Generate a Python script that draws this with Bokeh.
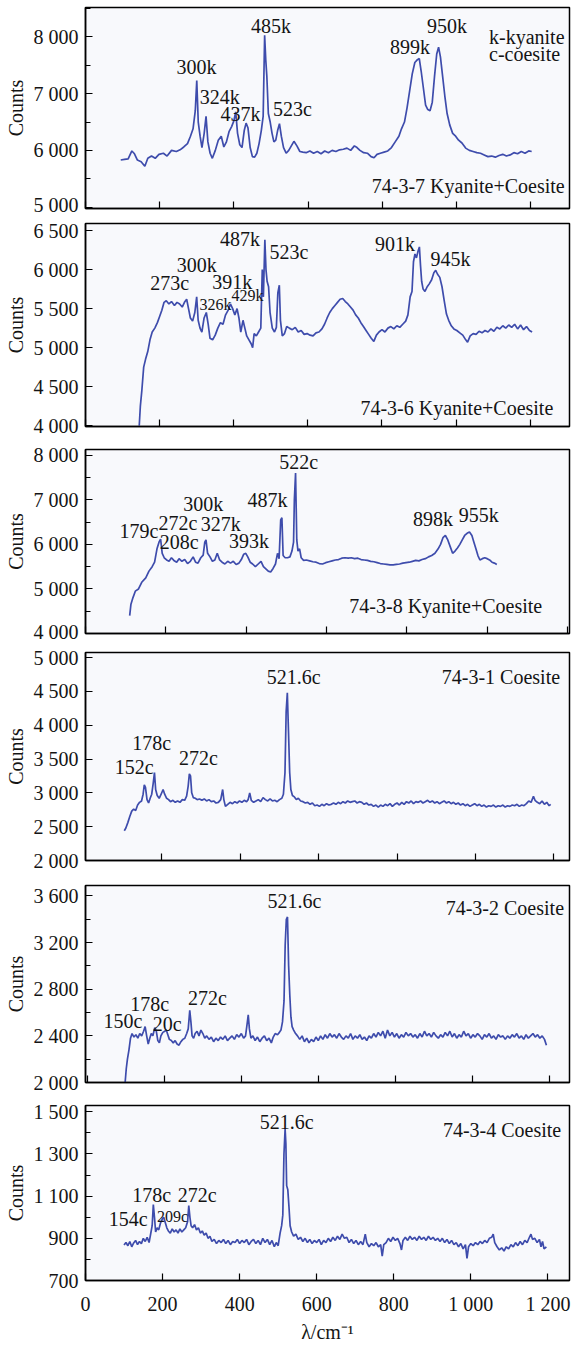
from bokeh.plotting import figure
from bokeh.layouts import column
from bokeh.models import FixedTicker, Range1d, Label
from bokeh.embed import file_html
from bokeh.resources import INLINE

FONT = "Liberation Serif"
LINE_COLOR = "#3442a8"
TEXT_COLOR = "#141414"

# ---------------- data (Raman shift cm-1, counts) ----------------
x_ticks = [0, 200, 400, 600, 800, 1000, 1200]
x_tick_labels = {1000: "1 000", 1200: "1 200"}

spec_737 = [(95,5830),(105,5840),(115,5850),(125,5990),(132,5940),(140,5830),(150,5800),(160,5720),(168,5860),(178,5900),
            (188,5860),(198,5930),(210,5950),(220,5900),(232,6000),(245,5980),(255,6010),(265,6060),(275,6120),(283,6250),
            (290,6380),(296,6700),(300,7230),(304,6500),(309,6250),(314,6050),(320,6300),(325,6600),(330,6150),(336,5950),
            (342,5860),(350,6000),(358,6180),(366,6250),(373,6060),(380,6150),(387,6330),(394,6420),(400,6520),(405,6680),
            (410,6300),(416,6100),(422,6050),(428,6350),(433,6480),(438,6400),(444,6050),(450,5890),(456,5880),(462,5950),
            (468,6120),(474,6350),(479,6600),(483,8030),(486,7600),(489,7300),(493,6650),(498,6500),(503,6300),(508,6150),
            (513,6180),(518,6350),(523,6470),(528,6250),(534,6050),(541,5950),(548,6000),(555,6080),(562,6160),(570,6080),
            (578,5980),(586,5970),(595,5960),(605,5990),(615,5950),(625,5980),(635,5940),(645,5990),(655,5960),(665,6000),
            (675,5980),(685,6010),(695,6020),(705,6040),(715,6000),(725,6080),(732,6050),(740,6000),(750,5960),(760,5950),
            (770,5890),(778,5870),(786,5930),(795,5950),(805,5970),(815,5990),(825,6050),(835,6150),(845,6250),(852,6380),
            (860,6500),(867,6750),(874,7050),(881,7350),(888,7550),(895,7600),(900,7620),(905,7400),(911,7100),(917,6800),
            (923,6720),(929,6700),(935,6850),(941,7300),(947,7700),(952,7820),(957,7650),(963,7300),(969,6950),(975,6650),
            (982,6450),(990,6300),(998,6250),(1006,6180),(1015,6130),(1025,6040),(1035,6000),(1045,5980),(1055,5960),(1065,5950),
            (1075,5920),(1085,5890),(1095,5900),(1105,5880),(1115,5910),(1125,5930),(1135,5900),(1145,5920),(1155,5960),(1165,5940),
            (1175,5980),(1185,5950),(1195,5990),(1203,5980)]

spec_736 = [(145,4000),(148,4250),(152,4450),(157,4750),(162,4850),(168,4950),(174,5100),(180,5200),(187,5250),(194,5320),
            (200,5400),(206,5480),(212,5580),(218,5600),(225,5560),(232,5590),(240,5540),(247,5580),(254,5560),(261,5520),
            (267,5580),(273,5620),(278,5500),(283,5380),(289,5340),(295,5450),(300,5650),(304,5350),(309,5250),(314,5200),
            (320,5380),(326,5450),(331,5300),(336,5120),(343,5100),(350,5160),(357,5250),(364,5320),(371,5300),(378,5420),
            (385,5480),(391,5560),(397,5500),(403,5420),(409,5500),(414,5380),(419,5200),(425,5350),(430,5250),(435,5150),
            (441,5100),(447,5050),(451,5000),(455,5180),(461,5150),(467,5200),(473,5250),(477,6000),(480,5650),(484,6380),
            (487,6000),(490,5850),(494,5780),(498,5450),(504,5250),(510,5200),(515,5260),(519,5700),(523,5800),(526,5350),
            (531,5150),(537,5180),(543,5270),(550,5250),(558,5230),(566,5260),(574,5200),(582,5220),(590,5170),(598,5180),
            (606,5160),(614,5150),(622,5190),(630,5200),(638,5240),(645,5300),(652,5380),(659,5450),(666,5500),(673,5540),
            (680,5580),(687,5620),(694,5630),(701,5590),(708,5560),(715,5520),(722,5480),(729,5420),(736,5380),(743,5320),
            (750,5270),(757,5220),(764,5170),(771,5120),(778,5080),(785,5160),(792,5200),(800,5230),(808,5200),(816,5250),
            (824,5270),(832,5240),(840,5280),(848,5260),(856,5300),(864,5340),(870,5420),(876,5650),(881,5720),(885,6100),
            (889,6200),(893,6150),(897,6230),(901,6290),(904,6050),(907,5850),(911,5750),(916,5720),(922,5780),(928,5820),
            (934,5870),(940,5960),(945,5990),(950,5940),(956,5900),(962,5780),(968,5600),(974,5430),(980,5350),(987,5280),
            (994,5240),(1002,5220),(1010,5190),(1018,5160),(1026,5100),(1031,5070),(1038,5150),(1046,5180),(1054,5170),(1062,5210),
            (1070,5190),(1078,5220),(1086,5200),(1094,5240),(1102,5210),(1110,5260),(1118,5240),(1126,5280),(1134,5250),(1142,5290),
            (1150,5260),(1158,5300),(1166,5240),(1174,5290),(1182,5230),(1190,5270),(1198,5220),(1205,5200)]

spec_738 = [(110,4400),(113,4650),(118,4800),(124,4950),(132,5000),(140,5150),(150,5250),(158,5400),(166,5500),(172,5600),
            (178,5900),(183,6050),(187,6120),(191,5800),(196,5700),(202,5650),(208,5620),(214,5700),(220,5640),(227,5600),
            (233,5680),(240,5620),(247,5660),(254,5570),(261,5620),(268,5720),(274,5600),(280,5580),(287,5700),(293,5760),
            (297,6050),(300,6100),(304,5800),(310,5720),(316,5620),(322,5650),(328,5800),(334,5650),(340,5600),(347,5560),
            (354,5620),(361,5580),(368,5620),(375,5550),(382,5580),(388,5660),(394,5780),(399,5800),(404,5720),(410,5600),
            (416,5560),(423,5500),(430,5560),(437,5620),(443,5500),(449,5450),(455,5400),(461,5380),(467,5460),(473,5560),
            (478,5800),(482,5680),(486,6550),(489,6600),(492,5750),(497,5700),(503,5700),(509,5720),(514,5850),(518,6050),
            (520,7000),(523,7600),(526,6100),(529,5850),(533,5900),(537,5700),(543,5640),(550,5650),(558,5630),(566,5610),
            (574,5600),(582,5570),(590,5560),(598,5590),(606,5610),(614,5630),(622,5650),(630,5660),(638,5690),(646,5700),
            (654,5690),(662,5700),(670,5680),(678,5690),(686,5660),(694,5650),(702,5640),(710,5620),(718,5610),(726,5590),
            (734,5570),(742,5560),(750,5550),(758,5540),(766,5540),(774,5550),(782,5560),(790,5580),(798,5590),(806,5600),
            (814,5620),(822,5640),(830,5630),(838,5660),(846,5680),(854,5720),(862,5750),(870,5800),(878,5900),(884,6000),
            (890,6150),(896,6200),(902,6100),(908,5950),(914,5800),(920,5850),(926,5920),(932,6000),(938,6100),(944,6200),
            (950,6250),(956,6280),(962,6200),(967,6050),(972,5900),(977,5750),(982,5650),(988,5680),(994,5700),(1000,5680),
            (1006,5650),(1012,5600),(1018,5580),(1024,5550)]

spec_731 = [(104,2440),(108,2480),(113,2560),(118,2650),(123,2730),(128,2760),(133,2740),(138,2820),(143,2860),(148,2880),
            (152,2980),(155,3120),(158,3080),(162,2900),(166,2850),(170,2920),(174,2980),(178,3150),(181,3300),(184,3050),
            (188,2960),(193,2920),(198,2980),(203,3050),(207,2980),(212,2920),(217,2900),(222,2870),(228,2890),(234,2860),
            (240,2880),(246,2860),(252,2900),(258,2890),(263,2950),(267,3100),(270,3280),(273,3250),(276,3000),(280,2930),
            (285,2920),(290,2900),(296,2910),(302,2890),(308,2910),(314,2880),(320,2900),(326,2870),(332,2880),(338,2850),
            (344,2860),(350,2900),(355,3050),(358,2900),(362,2800),(368,2830),(374,2860),(380,2840),(386,2870),(392,2850),
            (398,2880),(404,2860),(410,2890),(416,2870),(420,2900),(424,3000),(428,2890),(434,2860),(440,2880),(446,2900),
            (452,2870),(458,2930),(464,2900),(470,2880),(476,2910),(482,2880),(488,2890),(494,2870),(500,2900),(506,2920),
            (510,2980),(514,3300),(517,4200),(520,4480),(523,3900),(526,3300),(529,3050),(533,2960),(538,2940),(543,2900),
            (548,2920),(554,2880),(560,2870),(566,2850),(572,2860),(578,2830),(584,2850),(590,2810),(596,2820),(602,2800),
            (608,2830),(614,2810),(620,2840),(626,2820),(632,2830),(638,2850),(644,2830),(650,2860),(656,2840),(662,2870),
            (668,2850),(674,2880),(680,2860),(686,2870),(692,2880),(698,2850),(704,2870),(710,2860),(716,2830),(722,2850),
            (728,2820),(734,2830),(740,2800),(746,2820),(752,2790),(758,2820),(764,2800),(770,2830),(776,2810),(782,2840),
            (788,2800),(794,2830),(800,2850),(806,2820),(812,2860),(818,2830),(824,2870),(830,2850),(836,2880),(842,2840),
            (848,2870),(854,2860),(860,2880),(866,2850),(872,2870),(878,2890),(884,2860),(890,2880),(896,2850),(902,2870),
            (908,2840),(914,2860),(920,2880),(926,2850),(932,2870),(938,2840),(944,2860),(950,2830),(956,2850),(962,2820),
            (968,2840),(974,2810),(980,2830),(986,2800),(992,2820),(998,2840),(1004,2810),(1010,2830),(1016,2800),(1022,2820),
            (1028,2790),(1034,2810),(1040,2800),(1046,2820),(1052,2790),(1058,2810),(1064,2800),(1070,2820),(1076,2790),(1082,2810),
            (1088,2800),(1094,2820),(1100,2810),(1106,2830),(1112,2800),(1118,2820),(1124,2810),(1130,2840),(1136,2880),(1142,2860),
            (1148,2950),(1152,2890),(1158,2860),(1164,2840),(1170,2880),(1176,2830),(1182,2860),(1188,2810),(1192,2830)]

spec_732 = [(98,2000),(101,2120),(104,2200),(108,2280),(112,2380),(116,2420),(121,2390),(126,2410),(131,2380),(136,2420),
            (141,2400),(146,2440),(150,2480),(154,2400),(158,2330),(162,2380),(166,2420),(170,2400),(175,2470),(179,2440),
            (183,2360),(187,2340),(191,2400),(196,2430),(201,2440),(205,2450),(209,2410),(213,2370),(218,2360),(223,2340),
            (228,2360),(233,2330),(238,2320),(243,2350),(248,2370),(253,2380),(258,2420),(262,2460),(266,2620),(269,2520),
            (272,2400),(276,2380),(280,2420),(285,2440),(290,2400),(295,2450),(300,2420),(305,2380),(310,2400),(316,2370),
            (322,2390),(328,2350),(334,2380),(340,2360),(346,2390),(352,2370),(358,2400),(364,2360),(370,2380),(376,2400),
            (382,2370),(388,2410),(394,2390),(400,2420),(406,2380),(411,2400),(415,2500),(418,2580),(421,2460),(425,2380),
            (430,2400),(436,2360),(442,2390),(448,2350),(454,2380),(460,2400),(466,2360),(472,2380),(478,2340),(483,2390),
            (488,2420),(494,2410),(499,2430),(503,2450),(507,2520),(511,2700),(514,3180),(517,3400),(520,3420),(523,3000),
            (526,2750),(529,2560),(532,2480),(536,2450),(541,2420),(546,2400),(552,2370),(558,2400),(564,2350),(570,2380),
            (576,2340),(582,2370),(588,2350),(594,2390),(600,2360),(606,2400),(612,2370),(618,2410),(624,2380),(630,2420),
            (636,2390),(642,2410),(648,2380),(654,2420),(660,2390),(666,2370),(672,2400),(678,2380),(684,2420),(690,2370),
            (696,2400),(702,2380),(708,2410),(714,2370),(720,2390),(726,2360),(732,2400),(738,2380),(744,2420),(750,2390),
            (756,2430),(762,2400),(768,2440),(774,2380),(780,2450),(786,2400),(792,2430),(798,2390),(804,2420),(810,2380),
            (816,2410),(822,2390),(828,2430),(834,2400),(840,2420),(846,2390),(852,2410),(858,2380),(864,2420),(870,2390),
            (876,2440),(882,2400),(888,2420),(894,2390),(900,2430),(906,2400),(912,2380),(918,2410),(924,2390),(930,2430),
            (936,2400),(942,2440),(948,2390),(954,2420),(960,2380),(966,2410),(972,2390),(978,2440),(984,2400),(990,2420),
            (996,2380),(1002,2410),(1008,2390),(1014,2420),(1020,2400),(1026,2370),(1032,2410),(1038,2390),(1044,2420),(1050,2380),
            (1056,2400),(1062,2370),(1068,2410),(1074,2390),(1080,2400),(1086,2370),(1092,2400),(1098,2380),(1104,2410),(1110,2390),
            (1116,2420),(1122,2380),(1128,2400),(1134,2370),(1140,2410),(1146,2380),(1152,2400),(1158,2420),(1164,2390),(1170,2410),
            (1176,2380),(1182,2400),(1188,2370),(1193,2320)]

spec_734 = [(100,868),(105,880),(110,865),(115,885),(120,860),(125,878),(130,890),(135,870),(140,885),(145,875),
            (150,900),(155,885),(160,905),(165,880),(170,930),(173,960),(176,1060),(179,1000),(182,930),(186,950),
            (190,940),(195,975),(199,990),(203,1000),(207,975),(211,950),(215,935),(220,925),(225,945),(230,930),
            (235,940),(240,925),(245,945),(250,930),(255,940),(260,950),(265,980),(268,1055),(271,1000),(274,960),
            (278,950),(283,965),(288,940),(293,950),(298,925),(303,935),(308,915),(313,925),(318,900),(323,910),
            (328,885),(334,895),(340,875),(346,890),(352,880),(358,895),(364,875),(370,890),(376,870),(382,885),
            (388,880),(394,895),(400,875),(406,890),(412,880),(418,895),(424,870),(430,885),(436,895),(442,875),
            (448,890),(454,870),(460,900),(466,880),(472,895),(478,870),(484,890),(490,860),(495,880),(500,865),
            (505,925),(509,960),(512,1010),(515,1300),(518,1420),(520,1350),(522,1150),(525,1130),(528,1050),(531,960),
            (535,930),(540,910),(546,920),(552,895),(558,905),(564,885),(570,900),(576,880),(582,895),(588,875),
            (594,890),(600,880),(606,895),(612,870),(618,890),(624,880),(630,900),(636,885),(642,905),(648,890),
            (654,910),(660,895),(666,920),(672,900),(678,905),(684,880),(690,895),(696,875),(702,890),(708,870),
            (714,885),(720,870),(726,920),(730,880),(736,860),(742,875),(748,865),(754,880),(760,860),(766,870),
            (770,815),(774,870),(780,880),(786,900),(792,885),(798,905),(804,890),(810,900),(816,875),(820,845),
            (824,890),(830,905),(836,890),(842,910),(848,895),(854,905),(860,890),(866,910),(872,895),(878,905),
            (884,890),(890,910),(896,895),(902,905),(908,890),(914,900),(920,885),(926,900),(932,880),(938,895),
            (944,875),(950,890),(956,870),(962,880),(968,860),(974,875),(980,850),(986,870),(990,805),(994,860),
            (1000,875),(1006,865),(1012,880),(1018,870),(1024,885),(1030,875),(1036,890),(1042,880),(1048,900),(1054,905),
            (1058,920),(1062,880),(1068,860),(1074,845),(1080,855),(1086,840),(1092,860),(1098,850),(1104,870),(1110,860),
            (1116,880),(1122,865),(1128,885),(1134,870),(1140,890),(1146,880),(1152,905),(1156,920),(1160,895),(1166,900),
            (1172,880),(1178,895),(1182,860),(1186,885),(1190,850),(1196,860)]

# peak annotations: (text, x, y, size)
labels_737 = [("300k",299,7470,20),("324k",362,6940,20),("437k",418,6650,20),("485k",500,8200,20),
              ("523c",558,6735,20),("899k",875,7820,20),("950k",975,8200,20),
              ("74-3-7 Kyanite+Coesite",1032,5380,20)]
legend_737 = [("k-kyanite",1088,8000),("c-coesite",1088,7700)]
labels_736 = [("487k",417,6386,20),("523c",549,6225,20),("300k",300,6055,20),("273c",227,5822,20),
              ("391k",396,5843,20),("326k",351,5547,16),("429k",437,5674,16),("901k",835,6330,20),
              ("945k",985,6140,20),("74-3-6 Kyanite+Coesite",1002,4233,20)]
labels_738 = [("522c",531,7850,20),("487k",453,6987,20),("300k",293,6912,20),("327k",337,6460,20),
              ("272c",230,6476,20),("179c",133,6311,20),("208c",233,6049,20),("393k",407,6086,20),
              ("898k",865,6574,20),("955k",979,6649,20),("74-3-8 Kyanite+Coesite",897,4623,20)]
labels_731 = [("521.6c",536,4707,20),("74-3-1 Coesite",1065,4707,20),("178c",174,3741,20),
              ("152c",129,3380,20),("272c",293,3512,20)]
labels_732 = [("521.6c",538,3557,20),("74-3-2 Coesite",1085,3500,20),("178c",162,2671,20),
              ("272c",312,2729,20),("150c",92,2529,20),("20c",207,2500,20)]
labels_734 = [("521.6c",522,1454,20),("74-3-4 Coesite",1081,1416,20),("178c",172,1104,20),
              ("272c",290,1104,20),("154c",111,990,20),("209c",226,1005,16)]

panels = [
    dict(data=spec_737, xr=(0, 1305), yr=(4975, 8520), major=[5000, 6000, 7000, 8000],
         minor=[5500, 6500, 7500, 8500], labels=labels_737, legend=legend_737, h=215, bt=7, bb=7),
    dict(data=spec_736, xr=(0, 1306), yr=(3990, 6590), major=[4000, 4500, 5000, 5500, 6000, 6500],
         minor=[], labels=labels_736, legend=[], h=222, bt=8, bb=11),
    dict(data=spec_738, xr=(0, 1205), yr=(4000, 8130), major=[4000, 5000, 6000, 7000, 8000],
         minor=[4500, 5500, 6500, 7500], labels=labels_738, legend=[], h=205, bt=12, bb=9),
    dict(data=spec_731, xr=(5, 1240), yr=(2000, 5075), major=[2000, 2500, 3000, 3500, 4000, 4500, 5000],
         minor=[], labels=labels_731, legend=[], h=230, bt=10, bb=12),
    dict(data=spec_732, xr=(-5, 1253), yr=(2000, 3690), major=[2000, 2400, 2800, 3200, 3600],
         minor=[2200, 2600, 3000, 3400], labels=labels_732, legend=[], h=221, bt=13, bb=11),
    dict(data=spec_734, xr=(0, 1256), yr=(700, 1530), major=[700, 900, 1100, 1300, 1500],
         minor=[800, 1000, 1200, 1400], labels=labels_734, legend=[], h=252, bt=12, bb=60),
]


def fmt(v):
    s = str(v)
    return s[:-3] + " " + s[-3:] if len(s) > 3 else s


figs = []
for i, pn in enumerate(panels):
    last = i == len(panels) - 1
    p = figure(width=572, height=pn["h"], x_range=Range1d(*pn["xr"]), y_range=Range1d(*pn["yr"]),
               output_backend="svg", toolbar_location=None, title=None,
               min_border_left=85, min_border_right=3,
               min_border_top=pn["bt"], min_border_bottom=pn["bb"])
    p.background_fill_color = "#f8f9fc"
    p.border_fill_color = "white"
    p.outline_line_color = "black"
    p.outline_line_width = 1.5
    p.xgrid.visible = False
    p.ygrid.visible = False

    xa = p.xaxis[0]
    xa.ticker = FixedTicker(ticks=x_ticks)
    xa.major_tick_in = 7
    xa.major_tick_out = 0
    xa.minor_tick_in = 0
    xa.minor_tick_out = 0
    xa.axis_line_color = "black"
    xa.axis_line_width = 1.5
    xa.major_tick_line_color = "black"
    xa.major_tick_line_width = 1.2
    if last:
        xa.major_label_overrides = x_tick_labels
        xa.major_label_text_font = FONT
        xa.major_label_text_font_size = "20px"
        xa.major_label_text_color = TEXT_COLOR
        xa.major_label_standoff = 12
        xa.axis_label = "λ/cm⁻¹"
        xa.axis_label_text_font = FONT
        xa.axis_label_text_font_size = "20px"
        xa.axis_label_text_font_style = "normal"
        xa.axis_label_text_color = TEXT_COLOR
        xa.axis_label_standoff = 3
    else:
        xa.major_label_text_font_size = "0px"
        xa.major_label_standoff = 0

    ya = p.yaxis[0]
    ya.ticker = FixedTicker(ticks=pn["major"], minor_ticks=pn["minor"])
    ya.major_label_overrides = {v: fmt(v) for v in pn["major"]}
    ya.major_tick_in = 7
    ya.major_tick_out = 0
    ya.minor_tick_in = 5
    ya.minor_tick_out = 0
    ya.axis_line_color = "black"
    ya.axis_line_width = 1.5
    ya.major_tick_line_color = "black"
    ya.major_tick_line_width = 1.2
    ya.minor_tick_line_color = "black"
    ya.minor_tick_line_width = 1.2
    ya.major_label_text_font = FONT
    ya.major_label_text_font_size = "20px"
    ya.major_label_text_color = TEXT_COLOR
    ya.major_label_standoff = 7
    ya.axis_label = "Counts"
    ya.axis_label_text_font = FONT
    ya.axis_label_text_font_size = "20px"
    ya.axis_label_text_font_style = "normal"
    ya.axis_label_text_color = TEXT_COLOR
    ya.axis_label_standoff = 4

    xs = [a for a, b in pn["data"]]
    ys = [b for a, b in pn["data"]]
    p.line(xs, ys, line_color=LINE_COLOR, line_width=1.7, line_alpha=0.95)

    for t, lx, ly, sz in pn["labels"]:
        p.add_layout(Label(x=lx, y=ly, text=t, text_align="center", text_baseline="middle",
                           text_font=FONT, text_font_size=f"{sz}px", text_color=TEXT_COLOR))
    for t, lx, ly in pn["legend"]:
        p.add_layout(Label(x=lx, y=ly, text=t, text_align="left", text_baseline="middle",
                           text_font=FONT, text_font_size="20px", text_color=TEXT_COLOR))
    figs.append(p)

layout = column(*figs, spacing=0)
open("out.html", "w").write(file_html(layout, INLINE, title="Raman spectra"))
